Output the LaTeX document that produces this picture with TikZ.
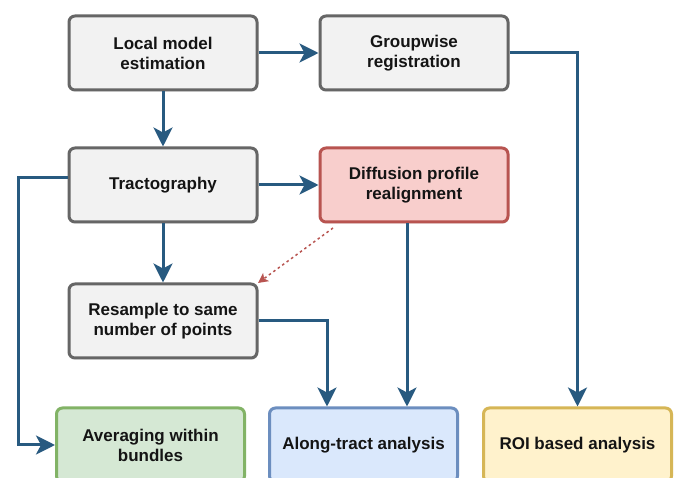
\documentclass[tikz,border=0pt]{standalone}
\usepackage{fontspec}
\setmainfont{Liberation Sans}
\usetikzlibrary{arrows.meta,shadows,calc}
\definecolor{arrowblue}{HTML}{285A80}
\definecolor{grayfill}{HTML}{F2F2F2}
\definecolor{grayline}{HTML}{666666}
\definecolor{redfill}{HTML}{F8CECC}
\definecolor{redline}{HTML}{B85450}
\definecolor{greenfill}{HTML}{D5E8D4}
\definecolor{greenline}{HTML}{82B366}
\definecolor{bluefill}{HTML}{DAE8FC}
\definecolor{blueline}{HTML}{6C8EBF}
\definecolor{yellowfill}{HTML}{FFF2CC}
\definecolor{yellowline}{HTML}{D6B656}
\tikzset{
  box/.style={rectangle, rounded corners=6pt, line width=3pt, minimum width=188pt, minimum height=74pt,
    align=center, font=\fontsize{17}{20}\selectfont\bfseries, text=black!92,
    drop shadow={shadow xshift=1pt, shadow yshift=-1.5pt, opacity=0.25}},
  graybox/.style={box, draw=grayline, fill=grayfill},
  redbox/.style={box, draw=redline, fill=redfill},
  greenbox/.style={box, draw=greenline, fill=greenfill},
  bluebox/.style={box, draw=blueline, fill=bluefill},
  yellowbox/.style={box, draw=yellowline, fill=yellowfill},
  flow/.style={draw=arrowblue, line width=3pt, -{Stealth[length=19pt,width=19pt,inset=5pt]}},
  dflow/.style={draw=redline, line width=1.5pt, dash pattern=on 2.5pt off 3pt, -{Stealth[length=10pt,width=10pt,inset=2.5pt]}}
}
\begin{document}
\begin{tikzpicture}[x=1pt,y=-1pt]
\useasboundingbox (0,0) rectangle (678,478);
\clip (0,0) rectangle (678,478);
\fill[white] (0,0) rectangle (678,478);
\node[graybox] (lme) at (163,53) {Local model\\estimation};
\node[graybox] (grp) at (414,53) {Groupwise\\registration};
\node[graybox] (trc) at (163,185) {Tractography};
\node[redbox] (dpr) at (414,185) {Diffusion profile\\realignment};
\node[graybox] (res) at (163,321) {Resample to same\\number of points};
\node[greenbox] (avg) at (150.5,445) {Averaging within\\bundles};
\node[bluebox] (alg) at (363.5,445) {Along-tract analysis};
\node[yellowbox] (roi) at (577.5,445) {ROI based analysis};
\coordinate (lft) at (18,178);
\coordinate (dstart) at (333,228);
\coordinate (dend) at (258,283);
\draw[flow] (lme) -- (grp);
\draw[flow] (lme) -- (trc);
\draw[flow] (grp.east) -| (roi.north);
\draw[flow] (trc) -- (dpr);
\draw[flow] (trc) -- (res);
\draw[flow] (trc.west |- lft) -- (lft) |- (avg.west);
\draw[flow] ([xshift=-7pt]dpr.south) -- ([xshift=43.5pt]alg.north);
\draw[flow] (res.east) -| ([xshift=-36.5pt]alg.north);
\draw[dflow] (dstart) -- (dend);
\end{tikzpicture}
\end{document}
